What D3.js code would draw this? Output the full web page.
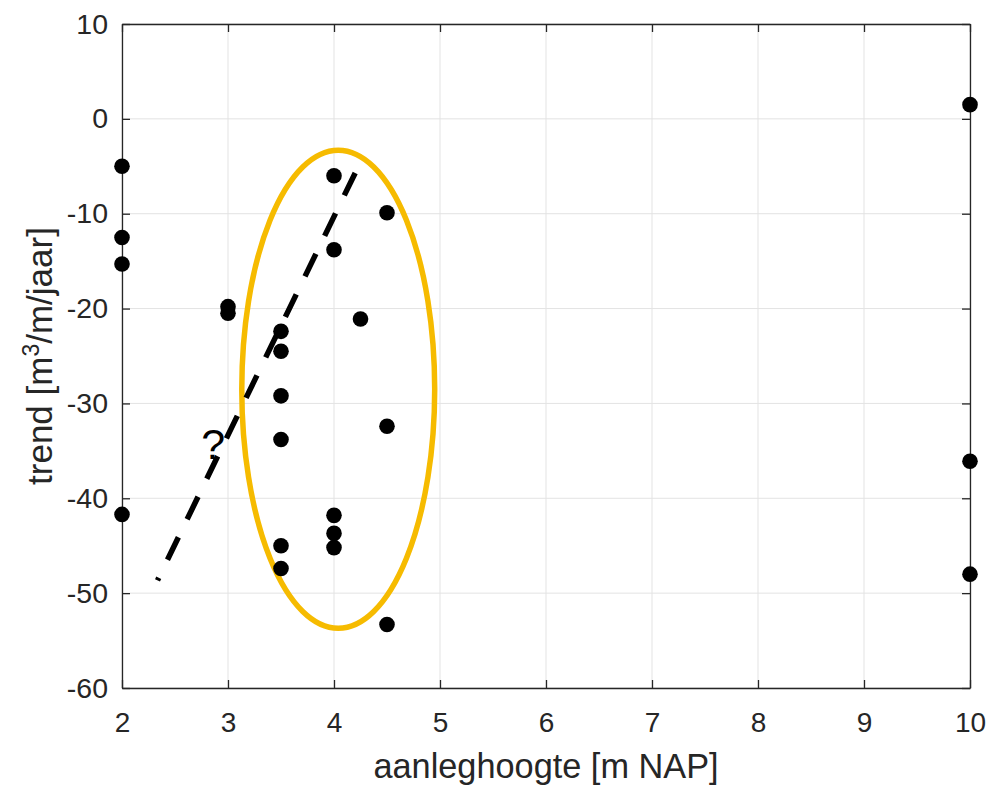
<!DOCTYPE html>
<html lang="nl">
<head>
<meta charset="UTF-8">
<title>trend vs aanleghoogte</title>
<script src="https://cdn.jsdelivr.net/npm/d3@7"></script>
<style>
  body { margin: 0; background: #fff; }
  text { font-family: "Liberation Sans", Arial, sans-serif; fill: #262626; }
</style>
</head>
<body>
<svg id="chart" width="995" height="789"></svg>
<script>
// aanleghoogte [m NAP] en trend [m3/m/jaar]
var hoogte = [2, 2, 2, 2, 3, 3, 3.5, 3.5, 3.5, 3.5, 3.5, 3.5, 4, 4, 4, 4, 4, 4.25, 4.5, 4.5, 4.5, 10, 10, 10];
var trend = [-5.0, -12.5, -15.3, -41.7, -19.8, -20.5, -22.4, -24.5, -29.2, -33.8, -45.0, -47.4,
             -6.0, -13.8, -41.8, -43.7, -45.2, -21.1, -9.9, -32.4, -53.3, 1.5, -36.1, -48.0];

var xTicks = [2, 3, 4, 5, 6, 7, 8, 9, 10];
var yTicks = [-60, -50, -40, -30, -20, -10, 0, 10];

// annotaties (in data-eenheden)
var ellipsCentrum = [4.04, -28.5];
var ellipsStraal = [0.91, 25.2];
var trendLijn = [[4.2, -5.7], [2.335, -48.65]];
var vraagteken = [2.86, -35.9];

var svg = d3.select("#chart"),
    mLeft = 122, mRight = 970, mTop = 24, mBottom = 688;

svg.append("rect").attr("width", 995).attr("height", 789).attr("fill", "#fff");

var x = d3.scaleLinear().domain([2, 10]).range([mLeft, mRight]),
    y = d3.scaleLinear().domain([-60, 10]).range([mBottom, mTop]);

// grid
svg.append("g").selectAll("line").data(xTicks).join("line")
    .attr("x1", d => x(d)).attr("x2", d => x(d))
    .attr("y1", mTop).attr("y2", mBottom)
    .attr("stroke", "#e3e3e3").attr("stroke-width", 1);
svg.append("g").selectAll("line").data(yTicks).join("line")
    .attr("y1", d => y(d)).attr("y2", d => y(d))
    .attr("x1", mLeft).attr("x2", mRight)
    .attr("stroke", "#e3e3e3").attr("stroke-width", 1);

// axes, MATLAB style with inward ticks on all sides
var tl = 8,
    fmt = d => String(d);
svg.append("g").attr("transform", "translate(0," + mBottom + ")")
    .call(d3.axisBottom(x).tickValues(xTicks).tickFormat(fmt).tickSizeInner(-tl).tickSizeOuter(0).tickPadding(24))
    .call(g => g.attr("font-size", 28).attr("font-family", null));
svg.append("g").attr("transform", "translate(0," + mTop + ")")
    .call(d3.axisTop(x).tickValues(xTicks).tickSizeInner(-tl).tickSizeOuter(0).tickFormat(""));
svg.append("g").attr("transform", "translate(" + mLeft + ",0)")
    .call(d3.axisLeft(y).tickValues(yTicks).tickFormat(fmt).tickSizeInner(-tl).tickSizeOuter(0).tickPadding(14))
    .call(g => g.attr("font-size", 28.5).attr("font-family", null));
svg.append("g").attr("transform", "translate(" + mRight + ",0)")
    .call(d3.axisRight(y).tickValues(yTicks).tickSizeInner(-tl).tickSizeOuter(0).tickFormat(""));

svg.selectAll(".domain").attr("stroke", "#262626").attr("stroke-width", 1.3);
svg.selectAll(".tick line").attr("stroke", "#262626").attr("stroke-width", 1.3);
svg.selectAll(".tick text").attr("fill", "#262626");

// axis titles
svg.append("text")
    .attr("x", 546).attr("y", 778)
    .attr("text-anchor", "middle").attr("font-size", 34.3)
    .text("aanleghoogte [m NAP]");

var yl = svg.append("text")
    .attr("transform", "translate(52,356) rotate(-90)")
    .attr("text-anchor", "middle").attr("font-size", 35);
yl.append("tspan").text("trend [m");
yl.append("tspan").attr("font-size", 23).attr("dy", -13).text("3");
yl.append("tspan").attr("dy", 13).text("/m/jaar]");

// yellow ellipse
svg.append("ellipse")
    .attr("cx", x(ellipsCentrum[0])).attr("cy", y(ellipsCentrum[1]))
    .attr("rx", x(ellipsCentrum[0] + ellipsStraal[0]) - x(ellipsCentrum[0]))
    .attr("ry", y(ellipsCentrum[1] - ellipsStraal[1]) - y(ellipsCentrum[1]))
    .attr("fill", "none").attr("stroke", "#f6bb00").attr("stroke-width", 5.5);

// dashed trend line, drawn from the top end down
svg.append("path")
    .attr("d", d3.line().x(d => x(d[0])).y(d => y(d[1]))(trendLijn))
    .attr("fill", "none").attr("stroke", "#000").attr("stroke-width", 5.5)
    .attr("stroke-dasharray", "25,20");

// points
svg.append("g").selectAll("circle").data(hoogte).join("circle")
    .attr("cx", d => x(d)).attr("cy", (d, i) => y(trend[i]))
    .attr("r", 7.8).attr("fill", "#000");

svg.append("text")
    .attr("x", x(vraagteken[0])).attr("y", y(vraagteken[1]))
    .attr("text-anchor", "middle")
    .style("font-family", "'Liberation Sans Narrow', 'Liberation Sans', sans-serif")
    .style("fill", "#000")
    .attr("font-size", 43).text("?");
</script>
</body>
</html>
